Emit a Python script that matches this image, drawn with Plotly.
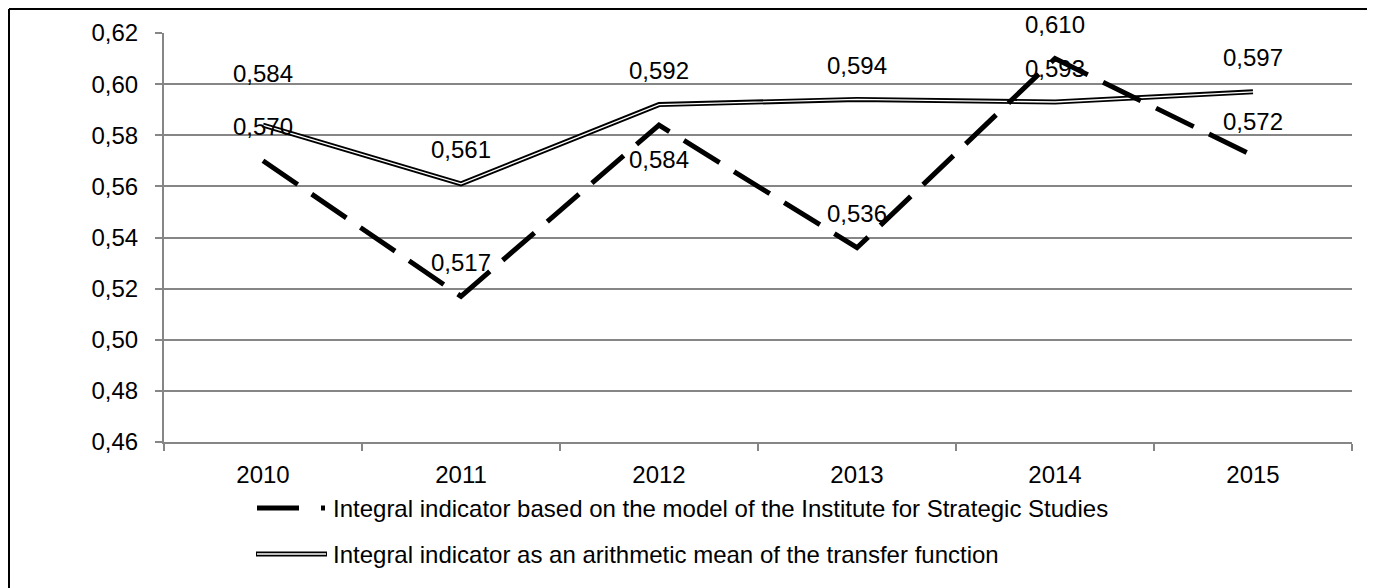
import plotly.graph_objects as go

years = ["2010", "2011", "2012", "2013", "2014", "2015"]
iss_model = [0.570, 0.517, 0.584, 0.536, 0.610, 0.572]
arith_mean = [0.584, 0.561, 0.592, 0.594, 0.593, 0.597]
y_ticks = [0.46, 0.48, 0.50, 0.52, 0.54, 0.56, 0.58, 0.60, 0.62]
name_iss = "Integral indicator based on the model of the Institute for Strategic Studies"
name_mean = "Integral indicator as an arithmetic mean of the transfer function"

FONT = "Liberation Sans"
FS = 24
OFF = 8  # page body margin
W, H = 1375 - OFF, 588 - OFF
# target pixel positions in the screenshot
PL, PR, PT, PB = 164, 1352, 33, 442
L, R, T, B = PL - OFF, W - (PR - OFF), PT - OFF, H - (PB - OFF)
pw, ph = W - L - R, H - T - B

def px(x):
    return (x - OFF - L) / pw

def py(y):
    return (H - B - (y - OFF)) / ph

fig = go.Figure()
fig.add_trace(go.Scatter(x=years, y=arith_mean, mode="lines",
                         line=dict(color="black", width=5), showlegend=False, hoverinfo="skip"))
fig.add_trace(go.Scatter(x=years, y=arith_mean, mode="lines",
                         line=dict(color="white", width=1.3), showlegend=False, hoverinfo="skip"))
fig.add_trace(go.Scatter(x=years, y=iss_model, mode="lines",
                         line=dict(color="black", width=5, dash="42px,17px"), showlegend=False))

def fmt(v):
    return f"{v:.3f}".replace(".", ",")

annotations = []
for i, v in enumerate(arith_mean):
    shift = 52 if i == 0 else 34
    annotations.append(dict(x=i, y=v, xref="x", yref="y", text=fmt(v), showarrow=False, yshift=shift,
                            font=dict(family=FONT, size=FS, color="black")))
for i, v in enumerate(iss_model):
    shift = -34 if i == 2 else 34
    annotations.append(dict(x=i, y=v, xref="x", yref="y", text=fmt(v), showarrow=False, yshift=shift,
                            font=dict(family=FONT, size=FS, color="black")))

# custom legend
annotations.append(dict(xref="paper", yref="paper", x=px(331), y=py(508), text=name_iss,
                        showarrow=False, xanchor="left", yanchor="middle",
                        font=dict(family=FONT, size=FS, color="black")))
annotations.append(dict(xref="paper", yref="paper", x=px(331), y=py(554), text=name_mean,
                        showarrow=False, xanchor="left", yanchor="middle",
                        font=dict(family=FONT, size=FS, color="black")))

border = dict(color="black", width=2)
shapes = [
    dict(type="line", xref="paper", yref="paper", x0=px(257), x1=px(299), y0=py(508), y1=py(508),
         line=dict(color="black", width=5)),
    dict(type="line", xref="paper", yref="paper", x0=px(321), x1=px(325), y0=py(508), y1=py(508),
         line=dict(color="black", width=5)),
    dict(type="line", xref="paper", yref="paper", x0=px(256), x1=px(327), y0=py(554), y1=py(554),
         line=dict(color="black", width=5)),
    dict(type="line", xref="paper", yref="paper", x0=px(257), x1=px(326), y0=py(554), y1=py(554),
         line=dict(color="white", width=1.3)),
    # outer chart border
    dict(type="line", xref="paper", yref="paper", x0=px(9), x1=px(9), y0=py(9), y1=py(588), line=border),
    dict(type="line", xref="paper", yref="paper", x0=px(1369), x1=px(1369), y0=py(9), y1=py(588), line=border),
    dict(type="line", xref="paper", yref="paper", x0=px(9), x1=px(1369), y0=py(9), y1=py(9), line=border),
]

fig.update_layout(
    width=W, height=H,
    margin=dict(l=L, r=R, t=T, b=B),
    plot_bgcolor="white", paper_bgcolor="white",
    font=dict(family=FONT, size=FS, color="black"),
    showlegend=False,
    annotations=annotations,
    shapes=shapes,
    xaxis=dict(type="category", range=[-0.5, 5.5], showline=True, linecolor="#868686", linewidth=2,
               ticks="outside", tickson="boundaries", ticklen=7, tickcolor="#868686", tickwidth=2,
               ticklabelstandoff=10,
               showgrid=False, tickfont=dict(family=FONT, size=FS, color="black")),
    yaxis=dict(range=[0.46, 0.62], tickvals=y_ticks, ticktext=[f"{v:.2f}".replace(".", ",") for v in y_ticks],
               showline=True, linecolor="#868686", linewidth=2, ticks="outside", ticklen=7,
               tickcolor="#868686", tickwidth=2, showgrid=True, gridcolor="#868686", gridwidth=2,
               ticklabelstandoff=12,
               zeroline=False, tickfont=dict(family=FONT, size=FS, color="black")),
)

fig.write_html("out.html")
